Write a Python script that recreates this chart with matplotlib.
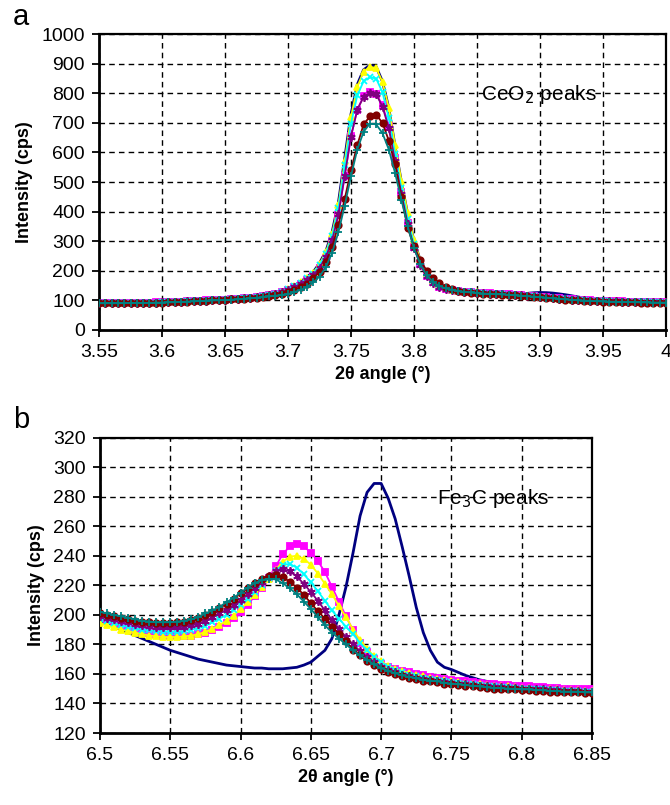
import numpy as np
import matplotlib
matplotlib.use("Agg")
import matplotlib.pyplot as plt
from matplotlib.ticker import FuncFormatter, MultipleLocator

plt.rcParams['font.family'] = ['Liberation Sans', 'DejaVu Sans']

# ---------------- Panel a data (2theta 3.55 .. 4.00, step 0.005) ----------------
a_start, a_step, a_n = 3.55, 0.005, 91
a_navy = [90, 90, 90, 90, 90.5, 91, 91, 91, 91.5, 92, 92.5, 93, 93.5, 94.5, 95.5, 96.5, 97.5, 98.5, 99.5, 100.5,
          101.5, 103, 104.5, 106, 108, 110.5, 113, 117, 123, 131,
          140, 150, 162, 178, 195, 225, 265, 330, 430, 580, 730, 830, 880, 895, 890, 840, 750, 620, 500, 390,
          300, 235, 190, 165, 150, 142, 137, 133, 130, 128, 127,
          124.5, 123.5, 122.5, 121.5, 120.5, 120, 121, 123, 125, 126, 125.5, 124, 121.5, 118.5, 115, 111, 107, 103,
          100, 97.5, 96, 95, 94.5, 94, 93.5, 93, 93, 92.5, 92.5, 92]
a_magenta = [90.5, 90.5, 90.5, 90.5, 91, 91.5, 91.5, 91.5, 92, 92.5, 93, 93.5, 94, 95, 96, 97, 98, 99, 100, 101,
             102, 103.5, 105, 106.5, 108.5, 110.5, 113, 116.5, 121, 127,
             134, 143, 154, 168, 183, 209, 244, 301, 388, 519, 655, 745, 790, 805, 798, 760, 690, 580, 465, 360,
             280, 222, 182, 160, 146, 138, 133, 130, 128, 126.5, 125.5,
             124, 123, 122, 121, 119.5, 118, 116.5, 115, 113.5, 112, 110, 108, 106, 104, 102.5, 101, 100, 99, 98,
             97, 96.5, 96, 95.5, 95, 94.5, 94, 94, 93.5, 93.5, 93]
a_yellow = [90, 90, 90, 90, 90.5, 91, 91, 91, 91.5, 92, 92.5, 93, 93.5, 94.5, 95.5, 96.5, 97.5, 98.5, 99.5, 100.5,
            101.5, 103, 104.5, 106, 108, 110.5, 113, 116.5, 122, 129,
            138, 148, 160, 176, 193, 222, 262, 325, 422, 570, 720, 822, 874, 890, 886, 838, 752, 625, 505, 395,
            303, 236, 190, 164, 150, 142, 136, 132, 129, 127, 126,
            123.5, 122.5, 121.5, 120.5, 119, 117.5, 116, 114.5, 113, 111.5, 109.5, 107.5, 105.5, 103.5, 102, 100.5,
            99.5, 98.5, 97.5, 96.5, 96, 95.5, 95, 94.5, 94, 93.5, 93.5, 93, 93, 92.5]
a_cyan = [90, 90, 90, 90, 90.5, 91, 91, 91, 91.5, 92, 92.5, 93, 93.5, 94.5, 95.5, 96.5, 97.5, 98.5, 99.5, 100.5,
          101.5, 103, 104.5, 106, 108, 110, 112.5, 116, 121.5, 129,
          138, 147, 159, 174, 190, 219, 257, 318, 413, 556, 698, 793, 841, 855, 850, 803, 717, 594, 480, 375,
          290, 228, 185, 162, 147, 140, 135, 131, 128, 126.5, 125.5,
          123, 122, 121, 120, 118.5, 117, 115.5, 114, 112.5, 111, 109, 107, 105, 103, 101.5, 100, 99, 98, 97, 96,
          95.5, 95, 94.5, 94, 93.5, 93, 93, 92.5, 92.5, 92]
a_purple = [90, 90, 90, 90, 90.5, 91, 91, 91, 91.5, 92, 92.5, 93, 93.5, 94.5, 95.5, 96.5, 97.5, 98.5, 99.5, 100.5,
            101.5, 103, 104.5, 106, 108, 110, 112.5, 116, 121, 127.5,
            135, 144, 155, 169, 184, 210, 245, 302, 390, 522, 654, 745, 788, 802, 797, 755, 682, 570, 460, 358,
            278, 220, 181, 159, 145, 137.5, 133, 129.5, 127.5, 126, 125,
            123.5, 122.5, 121.5, 120.5, 119, 117.5, 116, 114.5, 113, 111.5, 109.5, 107.5, 105.5, 103.5, 102, 100.5,
            99.5, 98.5, 97.5, 96.5, 96, 95.5, 95, 94.5, 94, 93.5, 93.5, 93, 93, 92.5]
a_maroon = [89.5, 89.5, 89.5, 89.5, 90, 90.5, 90.5, 90.5, 91, 91.5, 92, 92.5, 93, 94, 95, 96, 97, 98, 99, 100,
            101, 102.5, 104, 105.5, 107, 109, 111, 114, 117.5, 122.5,
            128, 136, 143, 154, 175, 195, 230, 280, 355, 442, 540, 625, 695, 722, 728, 700, 640, 560, 450, 345,
            282, 236, 200, 174, 158, 146, 137.5, 132, 128, 125.5, 124,
            122, 121, 120, 119, 117.5, 116, 114.5, 113, 111.5, 110, 108, 106, 104, 102, 100.5, 99, 98, 97, 96, 95,
            94.5, 94, 93.5, 93, 92.5, 92, 92, 91.5, 91.5, 91]
a_teal = [89.5, 89.5, 89.5, 89.5, 90, 90.5, 90.5, 90.5, 91, 91.5, 92, 92.5, 93, 94, 95, 96, 97, 98, 99, 99.5,
          100.5, 101.5, 103, 104.5, 106, 108, 110, 112.5, 115, 117.5,
          120, 127, 135, 145, 160, 180, 212, 260, 330, 420, 520, 610, 670, 698, 695, 665, 610, 530, 440, 350,
          275, 222, 185, 162, 148, 140, 135, 131, 128, 126, 124,
          122.5, 121.5, 120.5, 119.5, 118, 116.5, 115, 113.5, 112, 110.5, 108.5, 106.5, 104.5, 102.5, 101, 99.5,
          98.5, 97.5, 96.5, 95.5, 95, 94.5, 94, 93.5, 93, 92.5, 92.5, 92, 92, 91.5]

# ---------------- Panel b data (2theta 6.50 .. 6.85, step 0.005) ----------------
b_start, b_step, b_n = 6.50, 0.005, 71
b_navy = [196, 194, 192, 190, 188, 186, 184, 182, 180, 178, 176, 174.5, 173, 171.5, 170,
          169, 168, 167, 166, 165.5, 165, 164.5, 164, 164, 163.5, 163.5, 163.5, 164, 164.5, 166, 168, 172, 176,
          184, 200, 219,
          242, 267, 283, 289, 289, 279, 265, 246, 226, 205, 188, 176, 168, 164.5, 163, 161, 159, 157.5, 156, 155,
          154, 153.5, 153, 152, 151, 150.5, 150, 149.5, 149, 149, 148.5, 148.5, 148, 148, 148]
b_magenta = [198.5, 196.5, 194.5, 193, 191.5, 190, 189, 188, 187, 186, 185.5, 185.5, 185.5, 186, 187,
             188, 189.5, 191.5, 194.5, 198, 202, 207, 212.5, 218.5, 225, 233, 241, 246.5, 248, 246.5, 242, 236.5,
             229, 219, 209, 199,
             189.5, 181, 175, 170, 167, 165, 163.5, 162, 161, 160, 159, 158, 157.5, 156.5, 156, 155.5, 155, 154.5,
             154, 153.5, 153, 152.5, 152.5, 152, 151.5, 151.5, 151, 151, 150.5, 150.5, 150, 150, 150, 149.5, 149.5]
b_yellow = [194.5, 193, 191.5, 190, 189, 188, 187, 186, 185.5, 185, 185, 185, 185.5, 186, 187,
            188.5, 190.5, 193, 196, 199.5, 204, 208.5, 213.5, 219, 224.5, 230.5, 236, 239.5, 240, 238, 234, 228,
            221, 214, 206, 198.5,
            190, 183, 177, 172, 168.5, 165.5, 163.5, 162, 160.5, 159.5, 158.5, 157.5, 156.5, 156, 155, 154.5, 154,
            153.5, 153, 152.5, 152, 151.5, 151.5, 151, 150.5, 150.5, 150, 150, 149.5, 149.5, 149, 149, 149, 148.5,
            148.5]
b_cyan = [197.5, 196, 194.5, 193, 192, 191, 190, 189.5, 189, 188.5, 188.5, 188.5, 189, 190, 191,
          192.5, 195, 197.5, 200, 203.5, 207, 211, 215.5, 220, 225, 230, 234, 234.5, 232, 227.5, 222, 216, 209.5,
          203, 197.5, 192,
          187, 181, 176, 171.5, 168, 165, 163, 161, 159.5, 158.5, 157.5, 156.5, 156, 155, 154.5, 154, 153.5, 153,
          152.5, 152, 151.5, 151, 151, 150.5, 150, 150, 149.5, 149.5, 149, 149, 148.5, 148.5, 148.5, 148, 148]
b_purple = [199.5, 198, 197, 196, 195, 194, 193, 192.5, 192, 191.5, 191.5, 191.5, 192, 193, 194,
            196, 198.5, 201, 203.5, 206.5, 210, 214, 218, 222, 226, 229.5, 231, 229.5, 226, 221, 215.5, 209.5,
            203, 196.5, 190.5, 185,
            180, 175.5, 171.5, 168, 165, 162.5, 161, 159.5, 158.5, 157.5, 156.5, 156, 155.5, 154.5, 154, 153.5,
            153, 152.5, 152, 151.5, 151, 151, 150.5, 150.5, 150, 150, 149.5, 149.5, 149, 149, 148.5, 148.5, 148.5,
            148, 148]
b_maroon = [201, 200, 199, 198, 197, 196, 195.5, 195, 194.5, 194.5, 194.5, 195, 195.5, 196.5, 198,
            200, 202, 204.5, 207.5, 211, 214.5, 218, 221.5, 224.5, 226.5, 227, 225.5, 222.5, 218.5, 213.5, 208,
            202.5, 197.5, 192, 187, 182,
            176.5, 172.5, 169, 166, 163.5, 161.5, 160, 158.5, 157.5, 156.5, 155.5, 155, 154.5, 153.5, 153, 152.5,
            152, 151.5, 151, 150.5, 150, 150, 149.5, 149.5, 149, 149, 148.5, 148.5, 148, 148, 147.5, 147.5, 147.5,
            147, 147]
b_teal = [202, 201, 200, 199, 198, 197, 196, 195.5, 195, 195, 195, 195.5, 196, 197, 198.5,
          201, 203, 205.5, 208.5, 211.5, 215, 218.5, 221.5, 223.5, 224.5, 224, 221.5, 218, 214, 209, 204, 198.5,
          193, 188, 184, 180,
          176, 172.5, 169.5, 166.5, 164, 162, 160.5, 159, 158, 157, 156, 155.5, 155, 154, 153.5, 153, 152.5, 152,
          151.5, 151, 150.5, 150.5, 150, 150, 149.5, 149.5, 149, 149, 148.5, 148.5, 148, 148, 148, 147.5, 147.5]

a_yticks = [0, 100, 200, 300, 400, 500, 600, 700, 800, 900, 1000]
b_yticks = [120, 140, 160, 180, 200, 220, 240, 260, 280, 300, 320]

# series styles: (color, marker, markersize)
styles = {
    'navy':    ('#000080', None, 0),
    'magenta': ('#FF00FF', 's', 4.0),
    'yellow':  ('#FFFF00', '^', 4.8),
    'cyan':    ('#00FFFF', 'x', 4.8),
    'purple':  ('#800080', (6, 2, 0), 6.0),
    'maroon':  ('#800000', 'o', 4.6),
    'teal':    ('#008080', '+', 5.5),
}

fig = plt.figure(figsize=(6.70, 8.05), dpi=100)
W, H = 670, 805
ax_a = fig.add_axes([99 / W, (H - 329.7) / H, (666 - 99) / W, (329.7 - 34.3) / H])
ax_b = fig.add_axes([100 / W, (H - 733) / H, (592 - 100) / W, (733 - 437.7) / H])


def draw(ax, x, series):
    for name, y in series:
        c, m, ms = styles[name]
        if m is None:
            ax.plot(x, y, color=c, lw=2.0, zorder=3)
        else:
            ax.plot(x, y, color=c, lw=1.3, marker=m, ms=ms, mfc=c, mec=c, mew=1.3, zorder=4)


xa = a_start + a_step * np.arange(a_n)
xb = b_start + b_step * np.arange(b_n)

draw(ax_a, xa, [('navy', a_navy), ('magenta', a_magenta), ('yellow', a_yellow), ('cyan', a_cyan),
                ('purple', a_purple), ('maroon', a_maroon), ('teal', a_teal)])
draw(ax_b, xb, [('navy', b_navy), ('magenta', b_magenta), ('yellow', b_yellow), ('cyan', b_cyan),
                ('purple', b_purple), ('maroon', b_maroon), ('teal', b_teal)])

fmt = FuncFormatter(lambda v, p: f'{v:g}')
for ax, xl, yl, yt in [(ax_a, (3.55, 4.0), (0, 1000), a_yticks), (ax_b, (6.5, 6.85), (120, 320), b_yticks)]:
    ax.set_xlim(*xl)
    ax.set_ylim(*yl)
    ax.xaxis.set_major_locator(MultipleLocator(0.05))
    ax.xaxis.set_major_formatter(fmt)
    ax.set_yticks(yt)
    ax.grid(True, color='black', linestyle=(0, (4, 3)), linewidth=1.0, zorder=1)
    ax.set_axisbelow(True)
    for s in ax.spines.values():
        s.set_linewidth(1.6)
        s.set_color('black')
    ax.spines['left'].set_linewidth(2.0)
    ax.spines['bottom'].set_linewidth(2.0)
    ax.tick_params(axis='both', direction='out', length=5, width=1.3, labelsize=14, pad=5,
                   top=False, right=False)
    ax.set_xlabel('2θ angle (°)', fontsize=13, fontweight='bold', labelpad=4)
    ax.set_ylabel('Intensity (cps)', fontsize=13, fontweight='bold', labelpad=6)

ax_a.text(3.853, 795, 'CeO$_2$ peaks', fontsize=15, ha='left', va='center')
ax_b.text(6.7395, 279, 'Fe$_3$C peaks', fontsize=15, ha='left', va='center')

fig.text(13 / W, (H - 25) / H, 'a', fontsize=21, ha='left', va='baseline')
fig.text(13 / W, (H - 428) / H, 'b', fontsize=21, ha='left', va='baseline')

fig.savefig('out.png', dpi=100)
